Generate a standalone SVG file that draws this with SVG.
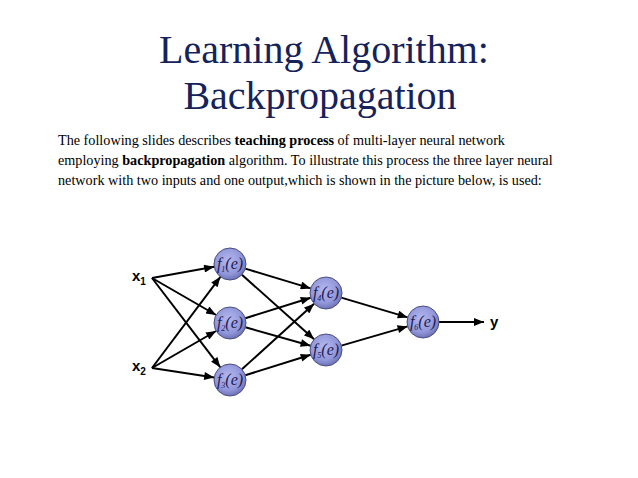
<svg xmlns="http://www.w3.org/2000/svg" width="638" height="478" viewBox="0 0 638 478">
<defs>
<radialGradient id="ng" cx="45%" cy="40%" r="60%">
<stop offset="0" stop-color="#b4b8f0"/>
<stop offset="0.7" stop-color="#9297da"/>
<stop offset="1" stop-color="#6e73b8"/>
</radialGradient>
<marker id="ah" viewBox="0 0 10 8" refX="10" refY="4" markerWidth="11" markerHeight="8" markerUnits="userSpaceOnUse" orient="auto">
<path d="M0,0 L10,4 L0,8 Z" fill="#000"/>
</marker>
<style>
.title{font-family:"Liberation Serif",serif;font-size:40px;fill:#15235a;text-anchor:middle}
.para{font-family:"Liberation Serif",serif;font-size:14.2px;fill:#000}
.b{font-weight:bold}
.node circle{fill:url(#ng);stroke:#4a4e80;stroke-width:1}
.nt{font-family:"Liberation Serif",serif;font-style:italic;font-size:16px;fill:#1e2050;text-anchor:middle}
.sub{font-size:8px}
.lbl{font-family:"Liberation Sans",sans-serif;font-weight:bold;font-size:15px;fill:#000}
.lsub{font-size:10px}
#connectors line{stroke:#000;stroke-width:2;marker-end:url(#ah)}
</style>
</defs>
<rect width="638" height="478" fill="#fff"/>
<text class="title" x="324" y="63">Learning Algorithm:</text>
<text class="title" x="320" y="109">Backpropagation</text>
<text class="para" x="58" y="145">The following slides describes <tspan class="b">teaching process</tspan> of multi-layer neural network</text>
<text class="para" x="58" y="165">employing <tspan class="b">backpropagation</tspan> algorithm. To illustrate this process the three layer neural</text>
<text class="para" x="58" y="185">network with two inputs and one output,which is shown in the picture below, is used:</text>
<g id="connectors">
<line x1="152" y1="278" x2="214.2" y2="266.8"/>
<line x1="152" y1="278" x2="216.1" y2="315"/>
<line x1="152" y1="278" x2="220.3" y2="367.3"/>
<line x1="152" y1="368" x2="220.4" y2="276.8"/>
<line x1="152" y1="368" x2="216.1" y2="331"/>
<line x1="152" y1="368" x2="214.2" y2="377.6"/>
<line x1="245.3" y1="268.6" x2="310.7" y2="288.4"/>
<line x1="241.9" y1="274.7" x2="314.1" y2="339.3"/>
<line x1="245.3" y1="318.2" x2="310.7" y2="297.8"/>
<line x1="245.4" y1="327.3" x2="310.6" y2="345.7"/>
<line x1="241.9" y1="369.3" x2="314.1" y2="303.7"/>
<line x1="245.3" y1="375.2" x2="310.7" y2="354.8"/>
<line x1="341.3" y1="297.6" x2="407.7" y2="317.4"/>
<line x1="341.4" y1="345.6" x2="407.6" y2="326.4"/>
<line x1="439" y1="322" x2="484" y2="322"/>
</g>
<g id="x1"><text class="lbl" x="132" y="281">x<tspan class="lsub" dy="4">1</tspan></text></g>
<g id="x2"><text class="lbl" x="132" y="371">x<tspan class="lsub" dy="4">2</tspan></text></g>
<g id="y"><text class="lbl" x="490" y="327">y</text></g>
<g id="f1" class="node"><circle cx="230" cy="264" r="16"/><text class="nt" x="230" y="269">f<tspan class="sub" dy="3">1</tspan><tspan dy="-3">(e)</tspan></text></g>
<g id="f2" class="node"><circle cx="230" cy="323" r="16"/><text class="nt" x="230" y="328">f<tspan class="sub" dy="3">2</tspan><tspan dy="-3">(e)</tspan></text></g>
<g id="f3" class="node"><circle cx="230" cy="380" r="16"/><text class="nt" x="230" y="385">f<tspan class="sub" dy="3">3</tspan><tspan dy="-3">(e)</tspan></text></g>
<g id="f4" class="node"><circle cx="326" cy="293" r="16"/><text class="nt" x="326" y="298">f<tspan class="sub" dy="3">4</tspan><tspan dy="-3">(e)</tspan></text></g>
<g id="f5" class="node"><circle cx="326" cy="350" r="16"/><text class="nt" x="326" y="355">f<tspan class="sub" dy="3">5</tspan><tspan dy="-3">(e)</tspan></text></g>
<g id="f6" class="node"><circle cx="423" cy="322" r="16"/><text class="nt" x="423" y="327">f<tspan class="sub" dy="3">6</tspan><tspan dy="-3">(e)</tspan></text></g>
</svg>
